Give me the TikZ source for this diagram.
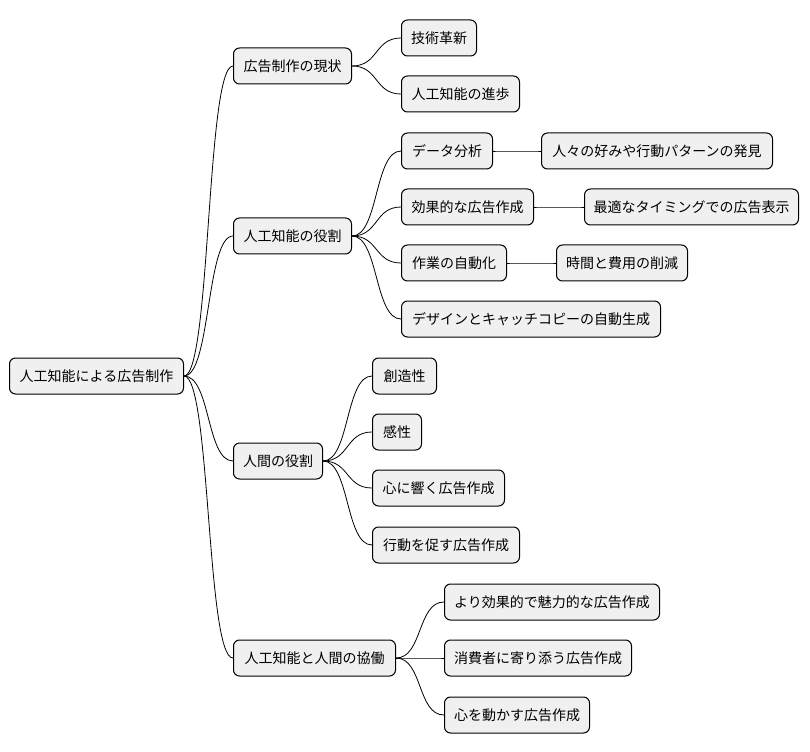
\documentclass[tikz,border=0pt]{standalone}
\usepackage{fontspec}
\setmainfont{Noto Sans CJK JP}
\begin{document}
\begin{tikzpicture}[x=0.75pt,y=-0.75pt,
  box/.style={draw=black,fill=black!6,rounded corners=4.5pt,line width=0.75pt,minimum height=27pt,inner sep=0pt,font=\fontsize{10.5pt}{12pt}\selectfont,anchor=west},
  ln/.style={line width=0.6pt}]
\useasboundingbox (0,0) rectangle (810,752);
\newcommand\bx[5]{\node[box,minimum width={#4*0.75pt}] (#1) at (#2,#3) {#5};}
\bx{r}{9}{376}{174}{人工知能による広告制作}
\bx{a}{233}{66}{118}{広告制作の現状}
\bx{b}{233}{236}{118}{人工知能の役割}
\bx{c}{233}{461}{89}{人間の役割}
\bx{d}{233}{658}{162}{人工知能と人間の協働}
\bx{a1}{401}{38}{75}{技術革新}
\bx{a2}{401}{94}{118}{人工知能の進歩}
\bx{b1}{401}{151}{91}{データ分析}
\bx{b2}{401}{207}{132}{効果的な広告作成}
\bx{b3}{401}{263}{105}{作業の自動化}
\bx{b4}{401}{319}{259}{デザインとキャッチコピーの自動生成}
\bx{b11}{541}{151}{231}{人々の好みや行動パターンの発見}
\bx{b21}{584}{207}{214}{最適なタイミングでの広告表示}
\bx{b31}{556}{263}{131}{時間と費用の削減}
\bx{c1}{372}{376}{64}{創造性}
\bx{c2}{372}{432}{49}{感性}
\bx{c3}{372}{488}{132}{心に響く広告作成}
\bx{c4}{372}{545}{147}{行動を促す広告作成}
\bx{d1}{444}{602}{215}{より効果的で魅力的な広告作成}
\bx{d2}{444}{658}{187}{消費者に寄り添う広告作成}
\bx{d3}{444}{715}{145}{心を動かす広告作成}
\foreach \p/\c in {r/a,r/b,r/c,r/d,a/a1,a/a2,b/b1,b/b2,b/b3,b/b4,c/c1,c/c2,c/c3,c/c4,d/d1,d/d2,d/d3,b1/b11,b2/b21,b3/b31}
  \draw[ln] (\p.east) .. controls ([xshift=20pt]\p.east) and ([xshift=-20pt]\c.west) .. (\c.west);
\end{tikzpicture}
\end{document}
